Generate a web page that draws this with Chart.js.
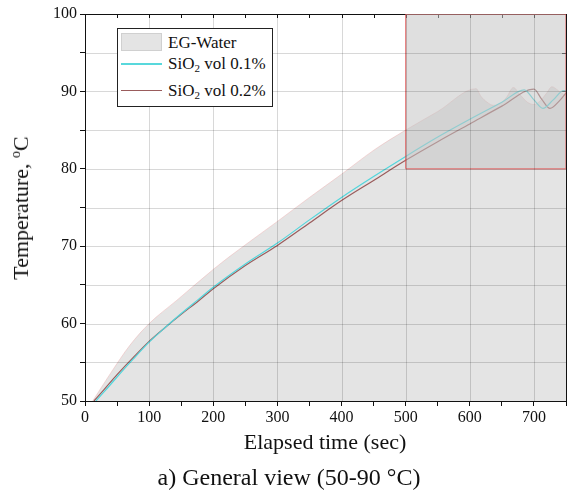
<!DOCTYPE html>
<html lang="en">
<head>
    <meta charset="UTF-8">
    <title>General view</title>
    <script src="https://cdn.jsdelivr.net/npm/chart.js"></script>
    <style>
        body { margin: 0; background: #fff; }
        #wrap { position: relative; width: 582px; height: 497px; font-family: "Liberation Serif", "Times New Roman", serif; color: #111; }
        #myChart { position: absolute; left: 0; top: 0; }
        .txt { position: absolute; white-space: nowrap; }
        #legend { position: absolute; left: 117px; top: 28px; width: 154px; height: 77px; border: 1px solid #222; background: #fff; font-size: 17px; }
        #legend .row { position: absolute; left: 3px; height: 22px; width: 150px; }
        #legend .sw { position: absolute; left: 0; width: 41px; }
        #legend .lb { position: absolute; left: 47px; top: 0; line-height: 22px; white-space: nowrap; }
        sub { font-size: 11px; vertical-align: -3px; line-height: 0; }
        sup { font-size: 14px; vertical-align: 8px; line-height: 0; }
    </style>
</head>
<body>
    <div id="wrap">
        <canvas id="myChart" width="582" height="497"></canvas>
        <div id="legend">
            <div class="row" style="top:3px"><div class="sw" style="top:1px;height:18px;background:#e4e4e4;border:1px solid #d0d0d0;box-sizing:border-box"></div><div class="lb">EG-Water</div></div>
            <div class="row" style="top:24px"><div class="sw" style="top:10px;height:2px;background:#58d8dc"></div><div class="lb">SiO<sub>2</sub> vol 0.1%</div></div>
            <div class="row" style="top:51px"><div class="sw" style="top:10px;height:1px;background:#9a5c5c"></div><div class="lb">SiO<sub>2</sub> vol 0.2%</div></div>
        </div>
        <div class="txt" id="yTitle" style="font-size:22px;left:21px;top:208px;transform:translate(-50%,-50%) rotate(-90deg)">Temperature, <sup>o</sup>C</div>
        <div class="txt" style="font-size:22px;left:325px;top:442px;transform:translate(-50%,-50%)">Elapsed time (sec)</div>
        <div class="txt" style="font-size:24px;left:289px;top:477px;transform:translate(-50%,-50%)">a) General view (50-90 &deg;C)</div>
    </div>

    <script>
        // EG-Water base fluid (shaded area)
        var egTime = [12, 40, 70, 100, 143, 200, 226, 300, 350, 400, 452, 500, 550, 610, 617, 627, 637, 647, 657, 668, 678, 690, 700, 710, 720, 728, 738, 750];
        var egTemp = [50, 53.6, 57.2, 60.0, 63.0, 67.0, 68.7, 73.2, 76.3, 79.3, 82.5, 85.0, 87.4, 90.35, 89.4, 88.6, 88.2, 88.4, 89.2, 90.5, 89.6, 88.6, 88.3, 88.8, 89.8, 90.6, 90.1, 89.4];

        // SiO2 vol 0.1%
        var sio1Time = [17, 30, 50, 75, 100, 125, 150, 175, 200, 250, 300, 350, 400, 450, 500, 550, 600, 650, 685, 700, 714, 730, 746, 750];
        var sio1Temp = [50, 51.2, 53.1, 55.4, 57.6, 59.5, 61.3, 63.0, 64.7, 67.7, 70.4, 73.4, 76.3, 79.0, 81.6, 84.1, 86.4, 88.6, 90.2, 88.9, 87.8, 88.9, 90.1, 90.1];

        // SiO2 vol 0.2%
        var sio2Time = [14, 30, 50, 75, 100, 125, 150, 175, 200, 250, 300, 350, 400, 450, 500, 550, 600, 650, 700, 712, 725, 740, 750];
        var sio2Temp = [50, 51.5, 53.4, 55.6, 57.7, 59.5, 61.2, 62.8, 64.5, 67.5, 70.1, 73.0, 75.9, 78.5, 81.1, 83.5, 85.8, 88.1, 90.3, 89.0, 87.8, 88.8, 89.8];

        // zoom window marked on the plot
        var zoomX = [500, 750];
        var zoomY = [80, 100];

        var xMin = 0, xMax = 750, yMin = 50, yMax = 100;

        function pts(xs, ys) {
            return xs.map(function (x, i) { return { x: x, y: ys[i] }; });
        }

        var zoomBox = [
            { x: zoomX[0], y: zoomY[0] }, { x: zoomX[0], y: zoomY[1] },
            { x: zoomX[1], y: zoomY[1] }, { x: zoomX[1], y: zoomY[0] },
            { x: zoomX[0], y: zoomY[0] }
        ];

        // grid over the fills (multiply so it darkens on grey) + mirrored top/right axes
        var frame = {
            id: 'frame',
            beforeDatasetsDraw: function (chart) {
                var c = chart.ctx, a = chart.chartArea;
                var xs = chart.scales.x, ys = chart.scales.y;
                c.save();
                c.strokeStyle = '#111';
                c.lineWidth = 1;
                c.beginPath();
                c.moveTo(a.left, Math.round(a.top) + 0.5);
                c.lineTo(a.right, Math.round(a.top) + 0.5);
                c.moveTo(Math.round(a.right) + 0.5, a.top);
                c.lineTo(Math.round(a.right) + 0.5, a.bottom);
                xs.ticks.forEach(function (t) {
                    var px = Math.round(xs.getPixelForValue(t.value)) + 0.5;
                    c.moveTo(px, a.top);
                    c.lineTo(px, a.top + 4);
                });
                ys.ticks.forEach(function (t) {
                    var py = Math.round(ys.getPixelForValue(t.value)) + 0.5;
                    c.moveTo(a.right, py);
                    c.lineTo(a.right - 4, py);
                });
                c.stroke();
                c.restore();
            },
            afterDatasetsDraw: function (chart) {
                var c = chart.ctx, a = chart.chartArea;
                var xs = chart.scales.x, ys = chart.scales.y;
                c.save();
                c.globalCompositeOperation = 'multiply';
                c.strokeStyle = 'rgb(216,216,216)';
                c.lineWidth = 1;
                c.beginPath();
                xs.ticks.forEach(function (t) {
                    if (t.value % 100 !== 0 || t.value <= xMin || t.value >= xMax) return;
                    var px = Math.round(xs.getPixelForValue(t.value)) + 0.5;
                    c.moveTo(px, a.top + 1);
                    c.lineTo(px, a.bottom);
                });
                ys.ticks.forEach(function (t) {
                    if (t.value <= yMin || t.value >= yMax) return;
                    var py = Math.round(ys.getPixelForValue(t.value)) + 0.5;
                    c.moveTo(a.left + 1, py);
                    c.lineTo(a.right, py);
                });
                c.stroke();
                c.restore();
            }
        };

        var ctx = document.getElementById('myChart');

        var myChart = new Chart(ctx, {
            type: 'line',
            data: {
                datasets: [{
                    label: 'EG-Water',
                    data: pts(egTime, egTemp),
                    backgroundColor: '#e4e4e4',
                    borderColor: 'rgba(235,180,180,0.5)',
                    borderWidth: 1,
                    cubicInterpolationMode: 'monotone',
                    fill: 'start',
                    order: 4
                }, {
                    label: 'SiO2 vol 0.2%',
                    data: pts(sio2Time, sio2Temp),
                    borderColor: '#9a5c5c',
                    borderWidth: 1.2,
                    cubicInterpolationMode: 'monotone',
                    fill: false,
                    order: 3
                }, {
                    label: 'SiO2 vol 0.1%',
                    data: pts(sio1Time, sio1Temp),
                    borderColor: '#52d6dc',
                    borderWidth: 1.2,
                    cubicInterpolationMode: 'monotone',
                    fill: false,
                    order: 2
                }, {
                    label: 'zoom',
                    data: zoomBox,
                    backgroundColor: 'rgba(196,196,196,0.55)',
                    borderColor: 'rgba(225,60,60,0.65)',
                    borderWidth: 1.2,
                    fill: 'shape',
                    order: 1
                }]
            },
            options: {
                responsive: false,
                animation: false,
                layout: { padding: { top: 14, right: 16, left: 0, bottom: 0 } },
                elements: { point: { radius: 0 }, line: { tension: 0 } },
                plugins: { legend: { display: false }, tooltip: { enabled: false } },
                scales: {
                    x: {
                        type: 'linear',
                        min: xMin,
                        max: xMax,
                        z: 1,
                        afterFit: function (s) { s.height = 96; },
                        border: { display: true, color: '#111', width: 1 },
                        grid: { drawOnChartArea: false, drawTicks: true, tickLength: 5, tickColor: '#111' },
                        ticks: {
                            stepSize: 50,
                            autoSkip: false,
                            maxRotation: 0,
                            padding: 2,
                            color: '#111',
                            font: { family: 'Liberation Serif', size: 16 },
                            callback: function (v) { return v % 100 === 0 ? v : ''; }
                        }
                    },
                    y: {
                        min: yMin,
                        max: yMax,
                        z: 1,
                        afterFit: function (s) { s.width = 85; },
                        border: { display: true, color: '#111', width: 1 },
                        grid: { drawOnChartArea: false, drawTicks: true, tickLength: 5, tickColor: '#111' },
                        ticks: {
                            stepSize: 5,
                            autoSkip: false,
                            padding: 3,
                            color: '#111',
                            font: { family: 'Liberation Serif', size: 16 },
                            callback: function (v) { return v % 10 === 0 ? v : ''; }
                        }
                    }
                }
            },
            plugins: [frame]
        });
    </script>
</body>
</html>
